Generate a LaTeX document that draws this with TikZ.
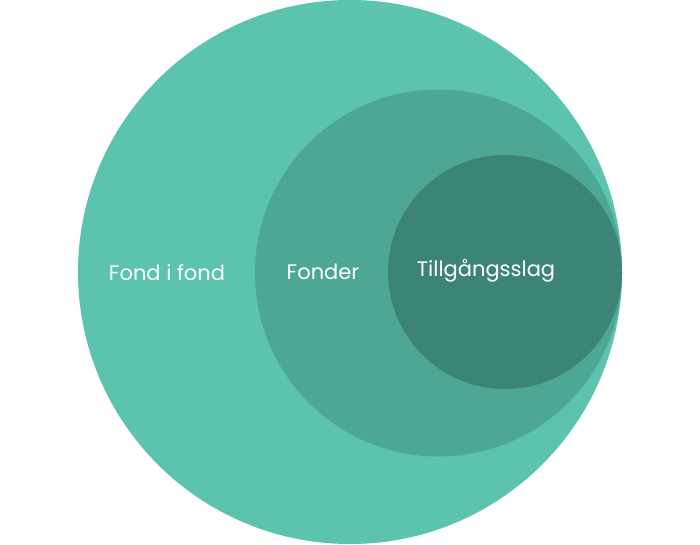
\documentclass[tikz,border=0pt]{standalone}
\usepackage{fontspec}
\setmainfont{Poppins}
\definecolor{cbig}{HTML}{5CC3AE}
\definecolor{cmid}{HTML}{4EA794}
\definecolor{csmall}{HTML}{3C8576}
\begin{document}
\begin{tikzpicture}[x=1pt,y=-1pt,
  lbl/.style={text=white,font=\fontsize{21}{24}\selectfont,inner sep=0pt}]
\useasboundingbox (0,0) rectangle (700,544);
\fill[cbig] (350,272) circle[radius=272];
\fill[cmid] (438.5,273) circle[radius=183.5];
\fill[csmall] (505,272) circle[radius=117];
\node[lbl] (a) at (167,273) {Fond i fond};
\node[lbl] (b) at (323,272) {Fonder};
\node[lbl] (c) at (486,271) {Tillgångsslag};
\end{tikzpicture}
\end{document}
